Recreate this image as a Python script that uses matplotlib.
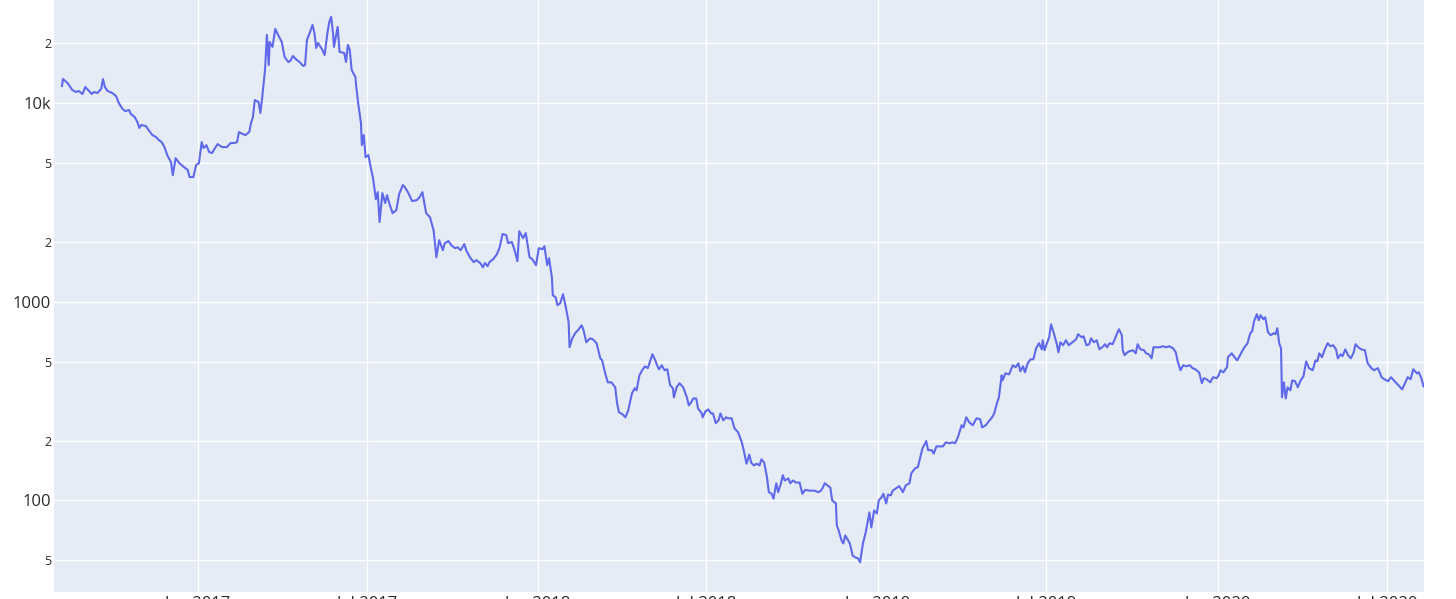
import matplotlib
matplotlib.use("Agg")
import matplotlib.pyplot as plt
import matplotlib.dates as mdates
import pandas as pd

# series: days after the first point, and the price
start = "2016-08-08"
day_offset = [
    0, 1, 6, 11, 15, 18, 22, 25, 29, 32, 34, 38, 42, 44, 46, 49, 54, 58, 61, 65,
    68, 72, 74, 78, 81, 83, 85, 90, 93, 97, 101, 104, 107, 110, 113, 117, 119, 122, 126, 131,
    135, 137, 141, 144, 147, 150, 152, 155, 158, 161, 167, 172, 177, 181, 185, 188, 190, 194, 197, 201,
    203, 205, 207, 211, 213, 215, 218, 220, 222, 223, 226, 229, 232, 236, 239, 243, 245, 248, 252, 255,
    259, 261, 263, 266, 269, 271, 273, 275, 279, 282, 285, 287, 289, 291, 292, 296, 298, 303, 305, 307,
    309, 311, 315, 316, 318, 321, 322, 324, 326, 329, 331, 334, 337, 339, 341, 344, 347, 349, 352, 355,
    359, 362, 366, 368, 372, 376, 381, 384, 387, 391, 395, 399, 402, 405, 409, 411, 415, 418, 422, 425,
    428, 432, 434, 438, 442, 445, 449, 452, 454, 457, 459, 463, 467, 470, 473, 477, 479, 483, 486, 489,
    491, 495, 498, 502, 505, 509, 512, 516, 518, 521, 523, 526, 527, 530, 532, 535, 538, 541, 544, 545,
    548, 551, 554, 558, 560, 563, 567, 570, 574, 578, 580, 583, 586, 590, 594, 596, 598, 602, 605, 608,
    612, 615, 617, 620, 623, 626, 629, 634, 637, 639, 641, 644, 647, 650, 653, 656, 657, 660, 663, 667,
    671, 673, 675, 678, 681, 683, 687, 688, 691, 694, 697, 699, 702, 705, 707, 710, 713, 715, 719, 722,
    726, 730, 732, 735, 738, 740, 743, 746, 749, 751, 754, 757, 759, 762, 764, 767, 769, 772, 774, 776,
    780, 782, 785, 788, 792, 795, 798, 803, 808, 812, 815, 817, 819, 823, 825, 827, 831, 832, 834, 837,
    839, 841, 843, 846, 849, 852, 855, 857, 860, 863, 867, 869, 872, 875, 877, 880, 882, 885, 887, 890,
    892, 895, 899, 903, 906, 910, 912, 916, 919, 922, 924, 928, 930, 934, 936, 939, 943, 946, 949, 953,
    956, 959, 962, 966, 968, 971, 974, 978, 982, 986, 988, 992, 996, 998, 1001, 1004, 1006, 1009, 1010, 1013,
    1017, 1021, 1024, 1027, 1029, 1032, 1034, 1037, 1040, 1043, 1046, 1049, 1052, 1053, 1055, 1058, 1060, 1062, 1065, 1068,
    1070, 1072, 1075, 1078, 1081, 1085, 1089, 1091, 1095, 1097, 1100, 1103, 1105, 1108, 1111, 1114, 1117, 1120, 1122, 1125,
    1128, 1130, 1133, 1135, 1138, 1139, 1141, 1144, 1146, 1150, 1153, 1155, 1158, 1162, 1164, 1167, 1170, 1172, 1175, 1179,
    1182, 1186, 1189, 1193, 1196, 1198, 1201, 1204, 1207, 1211, 1214, 1217, 1221, 1224, 1226, 1229, 1233, 1236, 1240, 1242,
    1244, 1247, 1251, 1252, 1256, 1259, 1262, 1266, 1269, 1273, 1276, 1278, 1280, 1283, 1285, 1287, 1290, 1292, 1295, 1298,
    1301, 1303, 1305, 1307, 1309, 1310, 1312, 1314, 1316, 1319, 1321, 1324, 1327, 1330, 1333, 1336, 1339, 1343, 1346, 1348,
    1350, 1353, 1356, 1359, 1362, 1365, 1368, 1370, 1373, 1375, 1378, 1381, 1384, 1387, 1389, 1392, 1395, 1399, 1402, 1406,
    1409, 1413, 1417, 1420, 1424, 1427, 1432, 1435, 1439, 1442, 1445, 1448, 1451, 1455, 1457, 1460, 1462,
]
price = [
    12180, 13210, 12610, 11630, 11360, 11500, 11100, 12040, 11500, 11100, 11360, 11230, 11770, 13210, 12040, 11500, 11230, 10850, 10000, 9330,
    9110, 9220, 8800, 8500, 8020, 7490, 7750, 7660, 7310, 6900, 6740, 6510, 6360, 6000, 5470, 5040, 4340, 5280, 4980, 4760,
    4600, 4240, 4240, 4870, 4980, 6360, 5930, 6140, 5670, 5600, 6210, 6000, 6000, 6290, 6290, 6360, 7140, 6980, 6900, 7140,
    7930, 8500, 10350, 10120, 8900, 10720, 14670, 22010, 15540, 20290, 19150, 23600, 22010, 20290, 17050, 16090, 16280, 17250, 16470, 16090,
    15360, 15540, 20770, 22540, 24720, 22540, 18930, 20050, 18710, 17450, 22540, 25590, 27120, 22540, 19150, 24150, 18080, 17860, 16090, 19600,
    18490, 14670, 13530, 12040, 10000, 7930, 6140, 6900, 5340, 5470, 4870, 4180, 3280, 3560, 2520, 3520, 3140, 3440, 3065, 2790,
    2890, 3480, 3865, 3780, 3520, 3210, 3245, 3360, 3560, 2790, 2670, 2290, 1675, 2040, 1817, 1970, 2020, 1925, 1860, 1880,
    1817, 1950, 1817, 1675, 1582, 1618, 1565, 1490, 1565, 1510, 1582, 1637, 1735, 1880, 2190, 2165, 1970, 2000, 1817, 1600,
    2265, 2090, 2215, 1675, 1637, 1527, 1860, 1838, 1903, 1527, 1656, 1330, 1078, 1053, 960, 983, 1091, 938, 789, 590,
    654, 694, 719, 761, 719, 625, 654, 647, 618, 519, 507, 441, 393, 393, 371, 309, 278, 271, 262, 284,
    346, 367, 358, 426, 452, 473, 463, 544, 507, 479, 457, 479, 452, 457, 380, 367, 330, 371, 389, 371,
    330, 301, 309, 326, 326, 290, 274, 262, 281, 287, 274, 274, 245, 253, 274, 253, 262, 259, 259, 231,
    220, 196, 179, 153, 170, 155, 150, 153, 150, 161, 155, 131, 110, 108, 102, 122, 110, 122, 134, 126,
    129, 122, 126, 123, 123, 108, 113, 112, 112, 110, 112, 116, 122, 118, 116, 100, 96.5, 74.8, 70.6, 62.9,
    60.7, 66.6, 64.3, 60.7, 52.8, 51.6, 51.0, 48.8, 60.7, 69.0, 87.0, 73.1, 89.0, 86.0, 100, 103.7, 108, 96.5, 107, 106,
    112, 114.5, 118, 110, 119, 122, 137, 145, 147, 168, 183, 199, 179, 179, 172, 187, 187, 187, 196, 194,
    196, 194, 208, 239, 233, 262, 248, 239, 259, 256, 233, 239, 253, 259, 274, 309, 330, 426, 402, 436,
    431, 479, 468, 490, 447, 473, 441, 490, 513, 513, 583, 618, 576, 640, 570, 625, 662, 770, 694, 618,
    556, 625, 604, 640, 604, 625, 647, 686, 662, 670, 604, 611, 654, 625, 640, 576, 590, 611, 590, 618,
    611, 640, 694, 727, 678, 570, 538, 556, 563, 570, 550, 611, 576, 570, 550, 544, 519, 590, 590, 590,
    597, 590, 597, 583, 556, 501, 452, 479, 473, 479, 463, 457, 441, 389, 412, 407, 393, 417, 412, 426,
    452, 441, 468, 526, 550, 526, 507, 550, 583, 618, 694, 710, 798, 865, 807, 855, 816, 835, 702, 678,
    694, 686, 736, 618, 583, 330, 393, 326, 371, 358, 402, 398, 371, 402, 421, 501, 463, 452, 507, 501,
    550, 526, 576, 618, 597, 604, 576, 519, 544, 532, 576, 538, 519, 556, 611, 590, 576, 570, 490, 463,
    452, 463, 417, 407, 398, 417, 393, 380, 362, 389, 417, 407, 457, 436, 441, 407, 375,
]

major_ticks = [100, 1000, 10000]
major_labels = ["100", "1000", "10k"]
minor_ticks = [50, 200, 500, 2000, 5000, 20000]
minor_labels = ["5", "2", "5", "2", "5", "2"]

dates = pd.Timestamp(start) + pd.to_timedelta(day_offset, unit="D")

plt.rcParams["font.family"] = ["Open Sans", "DejaVu Sans"]
text_color = "#2b2b2b"

fig = plt.figure(figsize=(14.56, 5.99), dpi=100)
ax = fig.add_axes([54 / 1456, 7.5 / 599, 1370 / 1456, 591.5 / 599])
ax.set_facecolor("#e5ecf6")

ax.plot(dates, price, color="#5f69ea", linewidth=1.5, zorder=3)

ax.set_yscale("log")
ax.set_ylim(34.8, 33000)
ax.set_xlim(dates[0] - pd.Timedelta(days=8.6), dates[-1] + pd.Timedelta(days=0.5))

ax.set_yticks(major_ticks, major_labels)
ax.set_yticks(minor_ticks, minor_labels, minor=True)
ax.tick_params(axis="y", which="major", length=0, pad=2, labelsize=12, labelcolor=text_color)
ax.tick_params(axis="y", which="minor", length=0, pad=2, labelsize=9, labelcolor=text_color)

ax.xaxis.set_major_locator(mdates.MonthLocator(bymonth=(1, 7)))
ax.xaxis.set_major_formatter(mdates.DateFormatter("%b %Y"))
ax.xaxis.set_minor_locator(mdates.MonthLocator(bymonth=(1, 7)))
ax.tick_params(axis="x", which="both", length=0, pad=3, labelsize=12, labelcolor=text_color)

ax.grid(True, which="both", color="white", linewidth=1.0)
ax.set_axisbelow(True)
for sp in ax.spines.values():
    sp.set_visible(False)

fig.savefig("out.png", dpi=100, facecolor="white")
